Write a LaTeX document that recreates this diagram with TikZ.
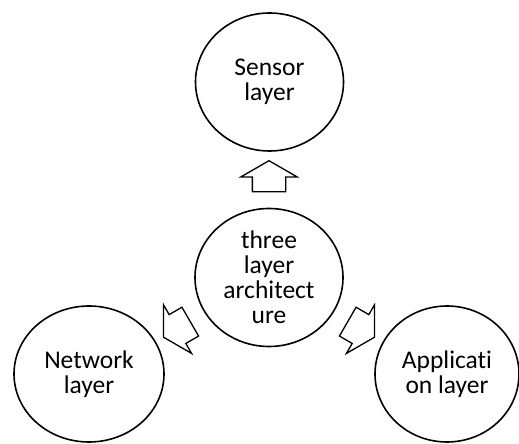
\documentclass[tikz,border=0pt]{standalone}
\usepackage{fontspec}
\setmainfont{Carlito}[Ligatures=NoCommon]
\usetikzlibrary{%
  shapes.geometric,% wg. ellipse
  shapes.arrows,% wg. single arrow
  positioning%
}

\begin{document}
\begin{tikzpicture}
  [
  x=1pt, y=1pt,
  font=\fontsize{25.5}{25}\selectfont,
  line width=1.6pt,
  layernode/.style={ellipse, inner sep=0pt, minimum width=148pt, minimum height=138pt, draw=black, align=center},
  blockarrow/.style={single arrow, single arrow tip angle=120, single arrow head extend=11.5pt, single arrow head indent=0pt, inner xsep=0pt, inner ysep=16pt, minimum height=31pt, draw=black, line width=1.3pt},
  ]
  \useasboundingbox (0,0) rectangle (519,444);

  \node[layernode] (core) at (269,166.5) {three\\layer\\architect\\ure};
  \node[layernode] (sensor) at (269.5,362) {Sensor\\layer};
  \node[layernode, minimum width=150pt, minimum height=136pt] (network) at (89,70) {Network\\layer};
  \node[layernode, minimum width=144pt, minimum height=136pt] (application) at (447,70) {Applicati\\on layer};

  % block arrows between the layers
  \node[blockarrow, rotate=90] (tosensor) at (269,263) {};
  \node[blockarrow, rotate=210] (tonetwork) at (181,117) {};
  \node[blockarrow, rotate=-30] (toapplication) at (357,117) {};

\end{tikzpicture}
\end{document}
